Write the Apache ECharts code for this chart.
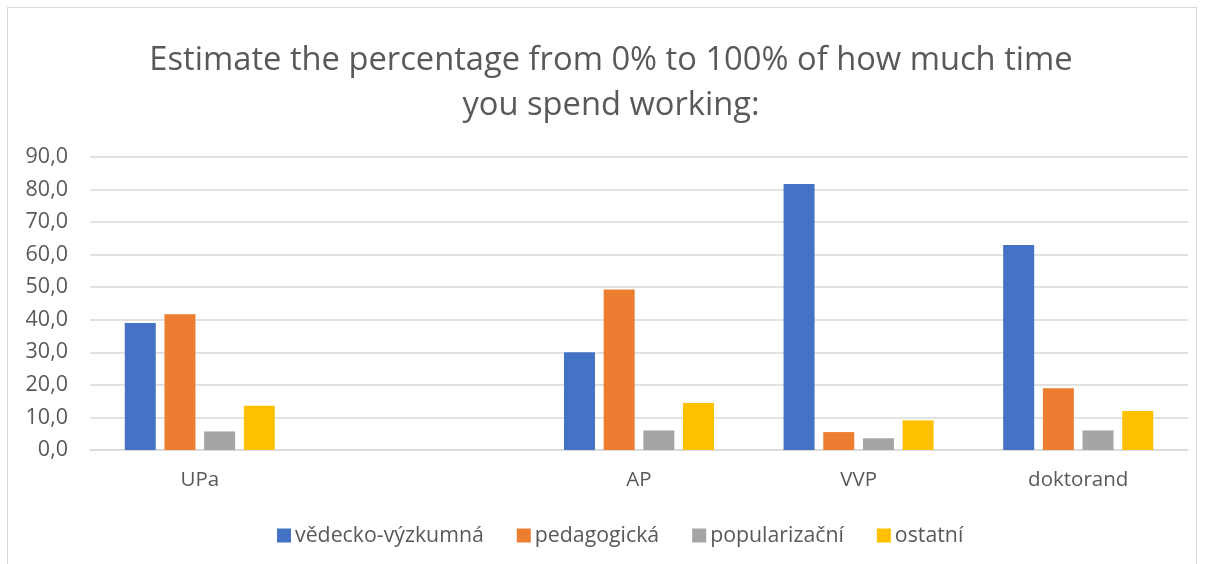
<!DOCTYPE html>
<html>
<head>
<meta charset="utf-8" />
<title>Estimate the percentage</title>
<script src="https://cdn.jsdelivr.net/npm/echarts@6/dist/echarts.min.js"></script>
<style>
  html, body { margin: 0; padding: 0; background: #fff; }
  #frame { position: absolute; left: 7px; top: 7px; width: 1190px; height: 570px;
           border: 1px solid #d9d9d9; box-sizing: border-box; }
  #chartmain { position: absolute; left: 0; top: 0; width: 1206px; height: 564px; }
</style>
</head>
<body>
<div id="frame"></div>
<div id="chartmain"></div>
<script type="text/javascript">
  // kategorie (druha je prazdna, jako v originale)
  var categories = ['UPa', '', 'AP', 'VVP', 'doktorand'];
  var vedecko = [39.0, null, 30.0, 81.7, 63.0];
  var pedagogicka = [41.7, null, 49.3, 5.5, 19.0];
  var popularizacni = [5.7, null, 6.0, 3.6, 6.0];
  var ostatni = [13.6, null, 14.4, 9.1, 12.0];
  var seriesNames = ['vědecko-výzkumná', 'pedagogická', 'popularizační', 'ostatní'];
  var colors = ['#4472c4', '#ed7d31', '#a5a5a5', '#ffc000'];

  var font = '"Open Sans", Lato, sans-serif';
  var myChart = echarts.init(document.getElementById('chartmain'));

  function bar(name, data) {
    return {
      name: name,
      type: 'bar',
      data: data,
      barWidth: 31,
      barGap: '28%'
    };
  }

  var option = {
    animation: false,
    color: colors,
    title: {
      text: 'Estimate the percentage from 0% to 100% of how much time\nyou spend working:',
      left: 606,
      textAlign: 'center',
      top: 33,
      textStyle: {
        fontFamily: font,
        fontWeight: 'normal',
        fontSize: 32.7,
        color: '#595959',
        lineHeight: 45
      }
    },
    grid: {
      left: 90,
      right: 18,
      top: 157,
      bottom: 114,
      containLabel: false
    },
    legend: {
      data: seriesNames,
      bottom: 13,
      left: 272,
      itemWidth: 14,
      itemHeight: 14,
      itemGap: 33,
      icon: 'rect',
      textStyle: { fontFamily: font, fontSize: 21.3, color: '#595959', padding: [0, 0, 0, -1] }
    },
    xAxis: {
      type: 'category',
      data: categories,
      axisLine: { lineStyle: { color: '#d9d9d9', width: 1.5 } },
      axisTick: { show: false },
      axisLabel: { fontFamily: font, fontSize: 20.5, color: '#595959', margin: 20 }
    },
    yAxis: {
      type: 'value',
      min: 0,
      max: 90,
      interval: 10,
      axisLine: { show: false },
      axisTick: { show: false },
      splitLine: { lineStyle: { color: '#d9d9d9', width: 1.5 } },
      axisLabel: {
        fontFamily: font, fontSize: 21.5, color: '#595959', margin: 22,
        formatter: function (v) { return v.toFixed(1).replace('.', ','); }
      }
    },
    series: [
      bar(seriesNames[0], vedecko),
      bar(seriesNames[1], pedagogicka),
      bar(seriesNames[2], popularizacni),
      bar(seriesNames[3], ostatni)
    ]
  };
  myChart.setOption(option);
</script>
</body>
</html>
